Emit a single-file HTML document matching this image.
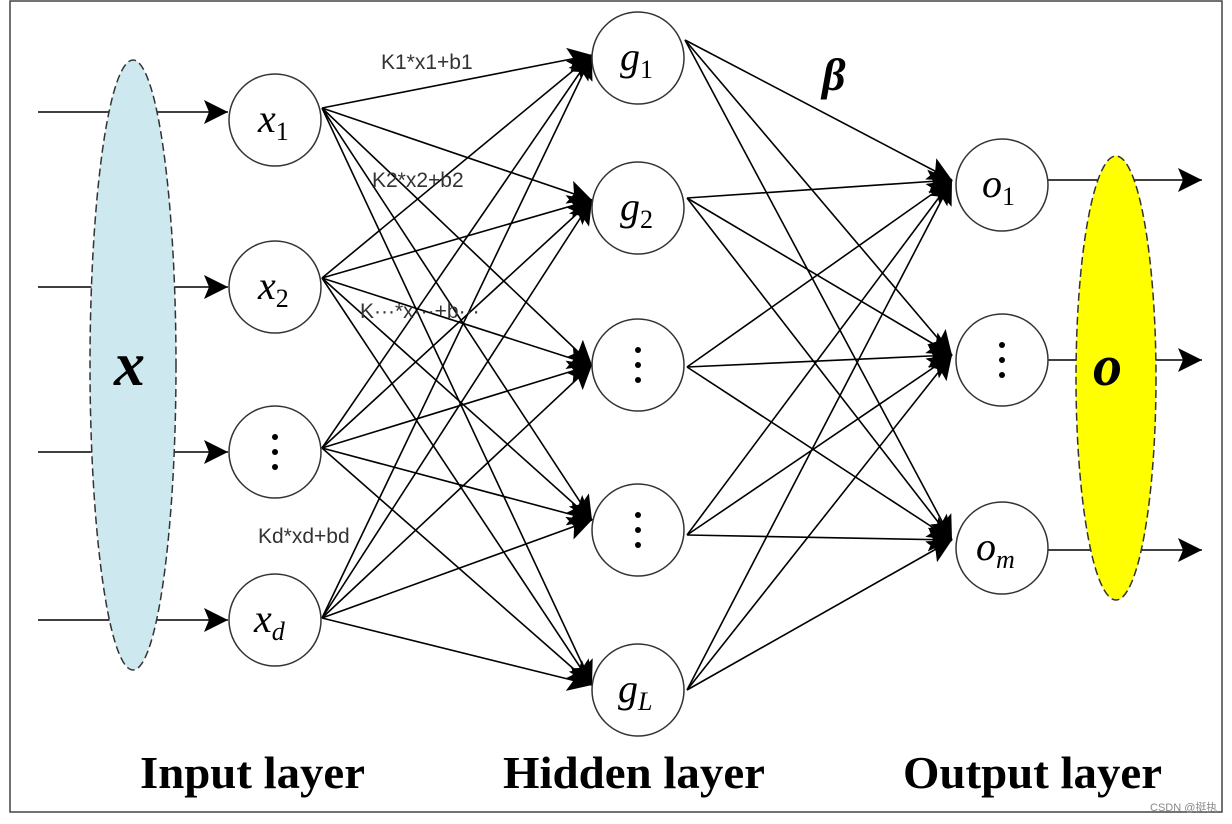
<!DOCTYPE html>
<html><head><meta charset="utf-8"><style>
html,body{margin:0;padding:0;background:#fff;}
svg{display:block;}
</style></head><body>
<svg width="1232" height="824" viewBox="0 0 1232 824" xmlns="http://www.w3.org/2000/svg">
<defs>
<marker id="a" markerUnits="userSpaceOnUse" markerWidth="30" markerHeight="30" refX="24" refY="12" orient="auto">
<path d="M0,0 L24,12 L0,24 L5,12 z" fill="#000"/>
</marker>
</defs>
<rect x="10" y="1" width="1212" height="811" fill="#fff" stroke="#444" stroke-width="1.5"/>
<g stroke="#000" stroke-width="1.6" fill="none" marker-end="url(#a)">
<line x1="38" y1="112" x2="228" y2="112"/>
<line x1="38" y1="287" x2="228" y2="287"/>
<line x1="38" y1="452" x2="228" y2="452"/>
<line x1="38" y1="620" x2="228" y2="620"/>
<line x1="1048" y1="180" x2="1202" y2="180"/>
<line x1="1048" y1="360" x2="1202" y2="360"/>
<line x1="1048" y1="550" x2="1202" y2="550"/>
</g>
<ellipse cx="133" cy="365" rx="43" ry="305" fill="#cde8ee" stroke="#333" stroke-width="1.5" stroke-dasharray="8,4"/>
<ellipse cx="1116" cy="378" rx="40" ry="222" fill="#ffff00" stroke="#333" stroke-width="1.5" stroke-dasharray="8,4"/>
<g stroke="#000" stroke-width="1.6" fill="none" marker-end="url(#a)">
<line x1="322" y1="108" x2="592" y2="55"/><line x1="322" y1="108" x2="592" y2="200"/><line x1="322" y1="108" x2="592" y2="365"/><line x1="322" y1="108" x2="592" y2="520"/><line x1="322" y1="108" x2="592" y2="685"/>
<line x1="322" y1="278" x2="592" y2="55"/><line x1="322" y1="278" x2="592" y2="200"/><line x1="322" y1="278" x2="592" y2="365"/><line x1="322" y1="278" x2="592" y2="520"/><line x1="322" y1="278" x2="592" y2="685"/>
<line x1="322" y1="448" x2="592" y2="55"/><line x1="322" y1="448" x2="592" y2="200"/><line x1="322" y1="448" x2="592" y2="365"/><line x1="322" y1="448" x2="592" y2="520"/><line x1="322" y1="448" x2="592" y2="685"/>
<line x1="322" y1="618" x2="592" y2="55"/><line x1="322" y1="618" x2="592" y2="200"/><line x1="322" y1="618" x2="592" y2="365"/><line x1="322" y1="618" x2="592" y2="520"/><line x1="322" y1="618" x2="592" y2="685"/>
<line x1="685" y1="40" x2="952" y2="180"/><line x1="685" y1="40" x2="952" y2="355"/><line x1="685" y1="40" x2="952" y2="540"/>
<line x1="687" y1="198" x2="952" y2="180"/><line x1="687" y1="198" x2="952" y2="355"/><line x1="687" y1="198" x2="952" y2="540"/>
<line x1="687" y1="367" x2="952" y2="180"/><line x1="687" y1="367" x2="952" y2="355"/><line x1="687" y1="367" x2="952" y2="540"/>
<line x1="687" y1="535" x2="952" y2="180"/><line x1="687" y1="535" x2="952" y2="355"/><line x1="687" y1="535" x2="952" y2="540"/>
<line x1="687" y1="690" x2="952" y2="180"/><line x1="687" y1="690" x2="952" y2="355"/><line x1="687" y1="690" x2="952" y2="540"/>
</g>
<g fill="#fff" stroke="#333" stroke-width="1.5">
<circle cx="275" cy="120" r="46"/><circle cx="275" cy="287" r="46"/><circle cx="275" cy="452" r="46"/><circle cx="275" cy="620" r="46"/>
<circle cx="638" cy="58" r="46"/><circle cx="638" cy="208" r="46"/><circle cx="638" cy="365" r="46"/><circle cx="638" cy="530" r="46"/><circle cx="638" cy="690" r="46"/>
<circle cx="1002" cy="185" r="46"/><circle cx="1002" cy="360" r="46"/><circle cx="1002" cy="548" r="46"/>
</g>
<g font-family="Liberation Serif, serif" font-style="italic" font-size="40" fill="#000">
<text x="258" y="132">x<tspan font-size="26" font-style="normal" dy="8">1</tspan></text>
<text x="258" y="299">x<tspan font-size="26" font-style="normal" dy="8">2</tspan></text>
<text x="254" y="632">x<tspan font-size="26" dy="8">d</tspan></text>
<text x="620" y="70">g<tspan font-size="26" font-style="normal" dy="8">1</tspan></text>
<text x="620" y="220">g<tspan font-size="26" font-style="normal" dy="8">2</tspan></text>
<text x="618" y="702">g<tspan font-size="26" dy="8">L</tspan></text>
<text x="982" y="197">o<tspan font-size="26" font-style="normal" dy="8">1</tspan></text>
<text x="976" y="560">o<tspan font-size="26" dy="8">m</tspan></text>
</g>
<g fill="#000">
<circle cx="275" cy="437" r="3"/><circle cx="275" cy="452" r="3"/><circle cx="275" cy="467" r="3"/>
<circle cx="638" cy="350" r="3"/><circle cx="638" cy="365" r="3"/><circle cx="638" cy="380" r="3"/>
<circle cx="638" cy="515" r="3"/><circle cx="638" cy="530" r="3"/><circle cx="638" cy="545" r="3"/>
<circle cx="1002" cy="345" r="3"/><circle cx="1002" cy="360" r="3"/><circle cx="1002" cy="375" r="3"/>
</g>
<text x="114" y="385" font-family="Liberation Serif, serif" font-style="italic" font-weight="bold" font-size="62">x</text>
<text x="1093" y="385" font-family="Liberation Serif, serif" font-style="italic" font-weight="bold" font-size="58">o</text>
<text x="822" y="90" font-family="Liberation Serif, serif" font-style="italic" font-weight="bold" font-size="46">β</text>
<g font-family="Liberation Sans, sans-serif" font-size="21" fill="#333">
<text x="381" y="69">K1*x1+b1</text>
<text x="372" y="187">K2*x2+b2</text>
<text x="360" y="318">K···*x···+b···</text>
<text x="258" y="543">Kd*xd+bd</text>
</g>
<g font-family="Liberation Serif, serif" font-weight="bold" font-size="46" fill="#000">
<text x="140" y="788" textLength="225" lengthAdjust="spacingAndGlyphs">Input layer</text>
<text x="503" y="788" textLength="262" lengthAdjust="spacingAndGlyphs">Hidden layer</text>
<text x="903" y="788" textLength="259" lengthAdjust="spacingAndGlyphs">Output layer</text>
</g>
<text x="1150" y="811" font-family="Liberation Sans, Noto Sans CJK SC, sans-serif" font-size="11" fill="#888">CSDN @挺执</text>
</svg>
</body></html>
